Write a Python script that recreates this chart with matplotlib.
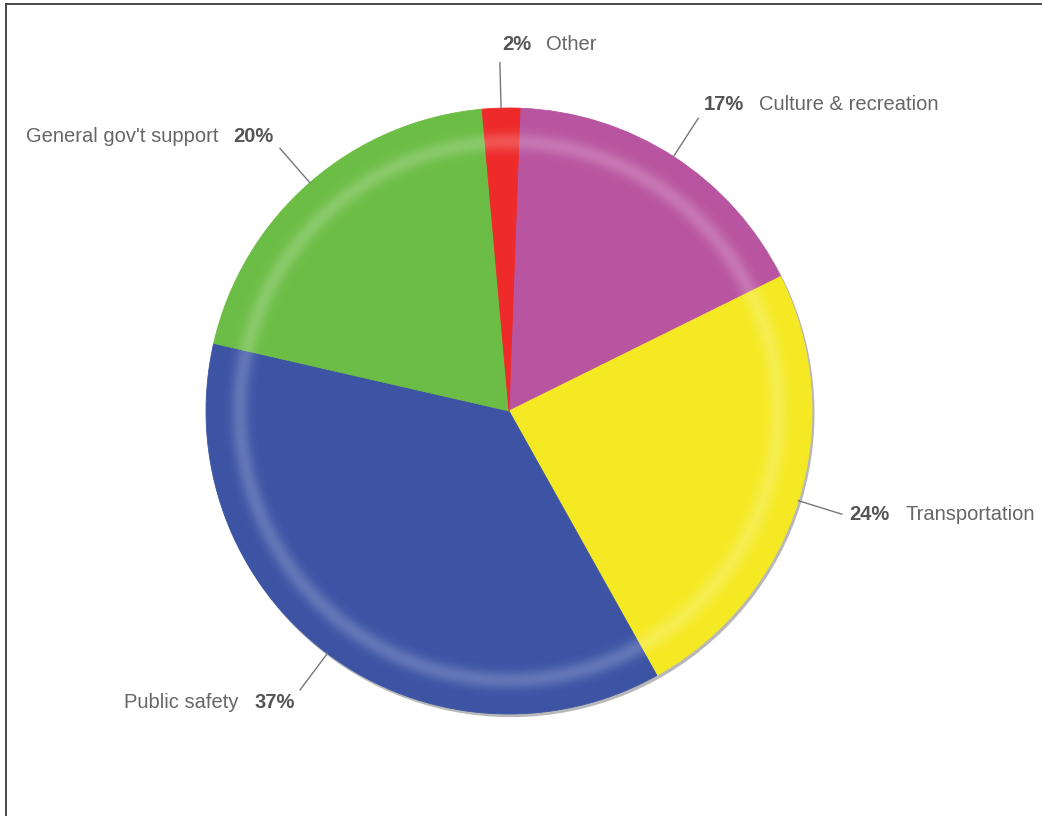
import numpy as np
import matplotlib.pyplot as plt
from matplotlib.patches import Circle
from matplotlib.lines import Line2D

plt.rcParams['font.family'] = ['Liberation Sans', 'DejaVu Sans']

# Slice data (clockwise from the top)
names = ["Culture & recreation", "Transportation", "Public safety",
         "General gov't support", "Other"]
values = [17.1, 24.2, 36.7, 20.0, 2.0]
pct_labels = ["17%", "24%", "37%", "20%", "2%"]
colors = ["#B955A0", "#F5E924", "#3D54A5", "#6CBD45", "#EE2A2A"]

W, H = 1042, 816
cx, cy, R = 509, 411, 303  # pie centre and radius in pixels

fig = plt.figure(figsize=(W / 100, H / 100), dpi=100)
ax = fig.add_axes([0, 0, 1, 1])

# soft shadow on lower right edge
ax.add_patch(Circle((0.006, -0.008), 1.0, color="#b8b8b8", zorder=0))

wedges, _ = ax.pie(values, colors=colors, startangle=87.9, counterclock=False,
                   radius=1.0, center=(0, 0), frame=True,
                   wedgeprops=dict(linewidth=0.6, zorder=1))
for w, c in zip(wedges, colors):
    w.set_edgecolor(c)
ax.set_xlim(-cx / R, (W - cx) / R)
ax.set_ylim(-(H - cy) / R, cy / R)
ax.axis("off")

# radial highlight ring
n = 600
g = np.linspace(-1, 1, n)
xx, yy = np.meshgrid(g, g)
rr = np.sqrt(xx ** 2 + yy ** 2)
rgba = np.ones((n, n, 4))
rgba[..., 3] = 0.2 * np.exp(-((rr - 0.89) / 0.03) ** 2)
img = ax.imshow(rgba, extent=[-1, 1, -1, 1], origin="lower", zorder=2,
                interpolation="bilinear")
img.set_clip_path(Circle((0, 0), 1.0, transform=ax.transData))

# leader lines and labels
txt_col = "#666666"
for w, name, pct in zip(wedges, names, pct_labels):
    phi = np.deg2rad((w.theta1 + w.theta2) / 2)
    c, s = np.cos(phi), np.sin(phi)
    x0, y0 = c * 1.0, s * 1.0
    x1, y1 = c * 1.15, s * 1.15
    ax.plot([x0, x1], [y0, y1], color="#777777", lw=1.0, zorder=3)
    right = c > -0.1
    tx = x1 + (1 if right else -1) * (2 + 6 * abs(c)) / R
    ty = y1 + 18 * np.sign(s) * max(abs(s) - 0.3, 0) / 0.7 / R
    if right:
        t1 = ax.text(tx, ty, pct, ha="left", va="center", fontsize=14.5,
                     fontweight="bold", color="#555555")
        ax.annotate(name, xy=(1, 0.5), xycoords=t1, xytext=(11, 0),
                    textcoords="offset points", ha="left", va="center",
                    fontsize=14.5, color=txt_col)
    else:
        t1 = ax.text(tx, ty, pct, ha="right", va="center", fontsize=14.5,
                     fontweight="bold", color="#555555")
        ax.annotate(name, xy=(0, 0.5), xycoords=t1, xytext=(-11, 0),
                    textcoords="offset points", ha="right", va="center",
                    fontsize=14.5, color=txt_col)

# partial frame (top and left edges)
fig.add_artist(Line2D([6 / W, 1], [1 - 4 / H, 1 - 4 / H],
                      transform=fig.transFigure, color="#3a3a3a", lw=1.3))
fig.add_artist(Line2D([6 / W, 6 / W], [0, 1 - 4 / H],
                      transform=fig.transFigure, color="#3a3a3a", lw=1.3))

fig.savefig("out.png", dpi=100, facecolor="white")
